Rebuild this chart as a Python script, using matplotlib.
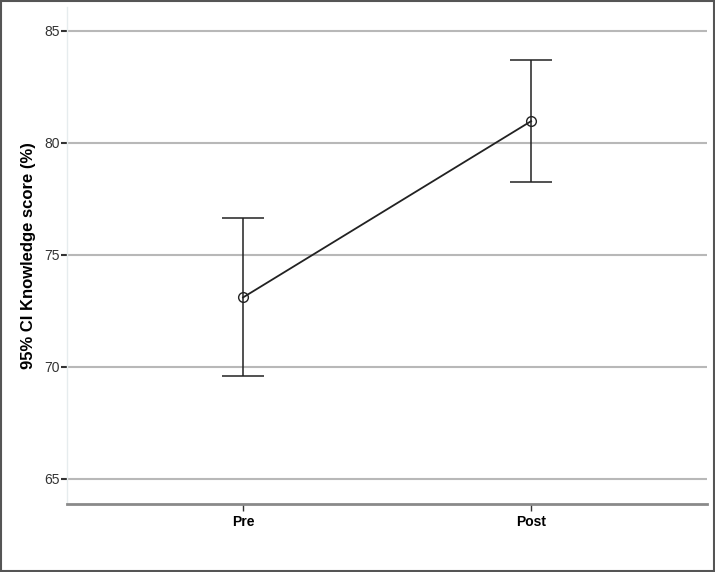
import matplotlib
matplotlib.use("Agg")
import matplotlib.pyplot as plt
from matplotlib import font_manager as fm

categories = ["Pre", "Post"]
means = [73.1, 80.97]
ci_low = [69.6, 78.26]
ci_high = [76.65, 83.7]
yticks = [65, 70, 75, 80, 85]

names = {f.name for f in fm.fontManager.ttflist}
narrow = "Liberation Sans Narrow" if "Liberation Sans Narrow" in names else "Liberation Sans"

fig = plt.figure(figsize=(7.15, 5.72), dpi=100)
fig.patch.set_facecolor("white")
fig.patches.append(plt.Rectangle((0.001, 0.001), 0.998, 0.997, transform=fig.transFigure,
                                 fill=False, edgecolor="#555555", linewidth=1.5))
ax = fig.add_axes([0.0937, 0.1189, 0.8953, 0.869])

x = list(range(len(categories)))
yerr = [[m - l for m, l in zip(means, ci_low)], [h - m for m, h in zip(means, ci_high)]]
ax.errorbar(x, means, yerr=yerr, fmt="none", ecolor="#222222", elinewidth=1.1,
            capsize=15, capthick=1.1, zorder=3)
ax.plot(x, means, color="#222222", linewidth=1.3, zorder=4)
ax.plot(x, means, linestyle="none", marker="o", markersize=7, markerfacecolor="none",
        markeredgecolor="#222222", markeredgewidth=1.0, zorder=5)

ax.set_xlim(-0.611, 1.611)
ax.set_ylim(63.88, 86.07)
ax.set_yticks(yticks)
ax.set_xticks(x)
ax.set_xticklabels(categories, fontfamily=narrow, fontweight="bold", fontsize=10)
ax.set_yticklabels([str(v) for v in yticks], fontfamily=narrow, fontsize=10, color="#333333")
for yv in yticks:
    ax.axhline(yv, color="#b8b8b8", linewidth=1.5, zorder=1)

for s in ["top", "right"]:
    ax.spines[s].set_visible(False)
ax.spines["left"].set_color("#e6ecee")
ax.spines["left"].set_linewidth(1.0)
ax.spines["bottom"].set_color("#8a8a8a")
ax.spines["bottom"].set_linewidth(2.0)
ax.tick_params(axis="y", length=4, width=1.5, color="#333333", pad=1)
ax.tick_params(axis="x", length=5, width=1.0, color="#333333", pad=3)
ax.set_ylabel("95% CI Knowledge score (%)", fontfamily="Liberation Sans", fontweight="bold",
              fontsize=12, labelpad=6)

fig.savefig("out.png", dpi=100)
